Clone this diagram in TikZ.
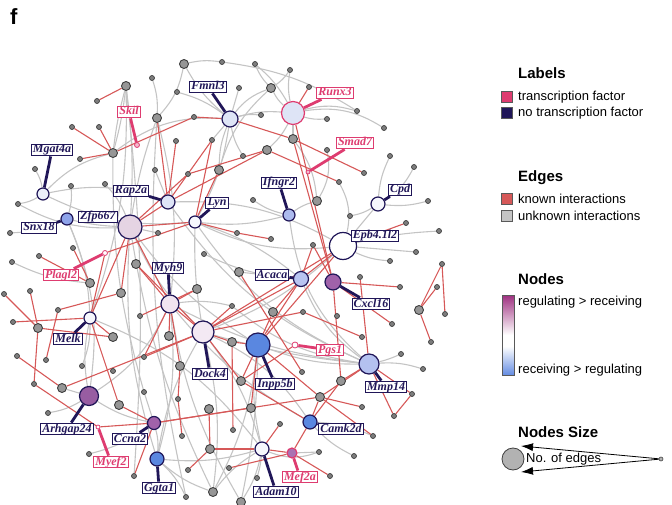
\documentclass[tikz,border=0pt]{standalone}
\usepackage{fontspec}
\setmainfont{Liberation Sans}
\newfontfamily\lblfont{Liberation Serif}
\usetikzlibrary{arrows.meta,backgrounds,positioning}
\definecolor{navy}{RGB}{32,22,88}
\definecolor{tfpink}{RGB}{222,60,112}
\definecolor{kred}{RGB}{214,88,88}
\definecolor{ugray}{RGB}{196,196,196}
\definecolor{gborder}{RGB}{62,62,62}
\definecolor{gmid}{RGB}{150,150,150}
\definecolor{gsmall}{RGB}{125,125,125}
\definecolor{cLight}{RGB}{222,228,246}
\definecolor{cPale}{RGB}{246,247,253}
\definecolor{cMauve}{RGB}{229,212,227}
\definecolor{cRose}{RGB}{240,228,240}
\definecolor{cSky}{RGB}{172,186,238}
\definecolor{cMid}{RGB}{142,163,234}
\definecolor{cBlue}{RGB}{90,135,224}
\definecolor{cPurple}{RGB}{160,98,170}
\definecolor{gradTop}{RGB}{158,48,128}
\definecolor{gradBot}{RGB}{100,140,226}
\pgfdeclareverticalshading{nodegrad}{100bp}{color(0bp)=(gradBot); color(25bp)=(gradBot);
  color(43bp)=(white); color(50bp)=(white); color(75bp)=(gradTop); color(100bp)=(gradTop)}

\begin{document}
\begin{tikzpicture}[x=1pt,y=-1pt,
  gm/.style={circle,draw=gborder,fill=gmid,line width=0.9pt,minimum size=9pt,inner sep=0pt},
  gs/.style={circle,draw=gborder,fill=gsmall,line width=0.7pt,minimum size=5pt,inner sep=0pt},
  gene/.style={circle,draw=navy,line width=1.2pt,inner sep=0pt,minimum size=#1},
  tfdot/.style={circle,draw=tfpink,fill=tfpink!35,line width=0.8pt,inner sep=0pt,minimum size=5pt},
  lbl/.style={draw=navy,fill=white,line width=1pt,inner xsep=1.6pt,inner ysep=0.5pt,
    text height=8.4pt,text depth=2.4pt,text=navy,
    font=\lblfont\bfseries\itshape\fontsize{12}{13}\selectfont},
  tflbl/.style={lbl,draw=tfpink,text=tfpink},
  link/.style={draw=navy,line width=2.8pt},
  tflink/.style={draw=tfpink,line width=2.8pt},
  known/.style={draw=kred,line width=1.1pt},
  unknown/.style={draw=ugray,line width=1.1pt},
  head/.style={anchor=west,inner sep=0pt,font=\bfseries\fontsize{15}{17}\selectfont},
  entry/.style={anchor=west,inner sep=0pt,font=\fontsize{13}{15}\selectfont},
  sq/.style={draw=black!65,line width=0.6pt,minimum size=11pt,inner sep=0pt}]
\useasboundingbox (0,0) rectangle (672,505);

\node[anchor=west,inner sep=0pt,font=\bfseries\fontsize{22}{24}\selectfont] (title) at (10,17) {f};

% genes
\node[gene=16pt,fill=cLight] (Fmnl3) at (230,119) {};
\node[gene=23pt,fill=cLight,draw=tfpink] (Runx3) at (293,113) {};
\node[gene=12pt,fill=cLight!60] (Mgat4a) at (43,194) {};
\node[gene=12pt,fill=cMid] (Snx18) at (67,219) {};
\node[gene=24pt,fill=cMauve] (Zfp667) at (130,227) {};
\node[gene=14pt,fill=cLight] (Rap2a) at (168,202) {};
\node[gene=12pt,fill=cPale] (Lyn) at (195,222) {};
\node[gene=12pt,fill=cSky] (Ifngr2) at (289,215) {};
\node[gene=14pt,fill=cPale] (Cpd) at (378,204) {};
\node[gene=27pt,fill=white] (Epb) at (343,246) {};
\node[gene=18pt,fill=cRose] (Myh9) at (170,304) {};
\node[gene=15pt,fill=cSky!85] (Acaca) at (301,279) {};
\node[gene=16pt,fill=cPurple] (Cxcl16) at (333,282) {};
\node[gene=12pt,fill=cPale] (Melk) at (90,318) {};
\node[gene=22pt,fill=cRose!80] (Dock4) at (203,332) {};
\node[gene=24pt,fill=cBlue] (Inpp5b) at (258,345) {};
\node[gene=20pt,fill=cSky!90] (Mmp14) at (369,364) {};
\node[gene=19pt,fill=cPurple!95!black] (Arhgap24) at (89,396) {};
\node[gene=13pt,fill=cPurple] (Ccna2) at (154,423) {};
\node[gene=14pt,fill=cBlue] (Camk2d) at (310,422) {};
\node[gene=14pt,fill=cBlue] (Ggta1) at (157,459) {};
\node[gene=14pt,fill=cPale] (Adam10) at (262,449) {};
\node[gene=10pt,fill=cPurple!90,draw=tfpink] (Mef2a) at (292,453) {};
\node[tfdot] (SkilD) at (137,145) {};
\node[tfdot,minimum size=4pt] (Smad7D) at (308,172) {};
\node[tfdot,fill=white] (PlaglD) at (105,253) {};
\node[tfdot,fill=white,minimum size=6pt] (PgsD) at (295,345) {};
\node[tfdot,fill=white,minimum size=4pt] (MyefD) at (98,427) {};

% other genes
\foreach \x/\y in {184/64,271/88,126/86,157/118,113/153,219/170,293/139,267/150,317/201,
  136/264,239/272,90/283,121/293,197/289,38/328,113/337,169/336,232/342,180/366,241/381,
  62/388,119/405,209/409,273/312,341/381,320/397,419/310,210/449,213/492,241/502,251/408}
  \node[gm] (g\x x\y) at (\x,\y) {};
\foreach \x/\y in {222/62,255/64,290/70,152/78,177/92,239/88,309/87,357/111,384/128,194/117,
  261/115,327/119,97/101,72/127,99/127,80/159,176/141,212/140,35/169,188/174,155/170,71/186,
  105/184,18/204,10/233,158/233,237/233,243/156,327/150,364/173,339/182,390/156,414/167,
  428/201,253/200,350/216,406/223,439/231,271/239,313/245,416/252,390/261,360/277,400/287,
  442/264,437/287,303/312,337/316,392/324,232/306,362/337,431/342,401/354,423/369,302/372,
  412/394,394/416,362/407,373/436,280/424,319/452,354/456,330/476,257/478,229/468,188/470,
  186/497,233/430,182/436,178/399,144/392,134/476,89/454,48/413,34/384,82/366,113/371,
  144/357,46/360,17/356,13/322,58/310,30/291,4/294,12/262,39/256,73/248,204/254,140/316,445/314}
  \node[gs] (g\x x\y) at (\x,\y) {};

% labels
\node[lbl] (Fmnl3L) at (208,87) {Fmnl3};
\node[tflbl] (Runx3L) at (335,93) {Runx3};
\node[tflbl] (SkilL) at (129,112) {Skil};
\node[tflbl] (Smad7L) at (355,143) {Smad7};
\node[lbl] (Mgat4aL) at (52,150) {Mgat4a};
\node[lbl] (Snx18L) at (39,228) {Snx18};
\node[lbl] (Zfp667L) at (98,217) {Zfp667};
\node[lbl] (Rap2aL) at (131,191) {Rap2a};
\node[lbl] (LynL) at (217,203) {Lyn};
\node[lbl] (Ifngr2L) at (279,183) {Ifngr2};
\node[lbl] (CpdL) at (400,190) {Cpd};
\node[lbl] (EpbL) at (375,236) {Epb4.1l2};
\node[tflbl] (PlaglL) at (61,275) {Plagl2};
\node[lbl] (Myh9L) at (168,268) {Myh9};
\node[lbl] (AcacaL) at (272,275) {Acaca};
\node[lbl] (Cxcl16L) at (371,304) {Cxcl16};
\node[lbl] (MelkL) at (68,339) {Melk};
\node[lbl] (Dock4L) at (210,374) {Dock4};
\node[lbl] (Inpp5bL) at (275,384) {Inpp5b};
\node[tflbl] (PgsL) at (330,350) {Pgs1};
\node[lbl] (Mmp14L) at (386,387) {Mmp14};
\node[lbl] (Arhgap24L) at (67,429) {Arhgap24};
\node[tflbl] (MyefL) at (111,462) {Myef2};
\node[lbl] (Ccna2L) at (130,439) {Ccna2};
\node[lbl] (Camk2dL) at (341,429) {Camk2d};
\node[lbl] (Ggta1L) at (159,488) {Ggta1};
\node[lbl] (Adam10L) at (276,492) {Adam10};
\node[tflbl] (Mef2aL) at (300,477) {Mef2a};

\begin{pgfonlayer}{background}
\foreach \a/\b/\c in {g184x64/g222x62/10,g222x62/g357x111/12,g184x64/g157x118/15,g184x64/Fmnl3/-10,
  g152x78/g157x118/10,g126x86/g113x153/4,g126x86/g113x153/-4,g126x86/Zfp667/5,g157x118/Zfp667/-5,
  g157x118/Myh9/10,Fmnl3/g239x88/0,Fmnl3/g177x92/-10,Fmnl3/g261x115/10,Fmnl3/g271x88/15,
  Fmnl3/Runx3/10,Fmnl3/g219x170/-10,Fmnl3/Lyn/10,Fmnl3/g212x140/0,Fmnl3/g243x156/-10,
  g113x153/Fmnl3/20,Runx3/g327x119/-10,Runx3/g357x111/15,Runx3/g384x128/20,Runx3/g271x88/10,
  Runx3/g255x64/-10,Runx3/g290x70/10,Runx3/g267x150/10,Runx3/g293x139/0,g271x88/g255x64/10,
  g271x88/g290x70/-10,g271x88/g219x170/-15,g293x139/g317x201/15,g317x201/g327x150/-20,
  g317x201/Ifngr2/-10,Ifngr2/g253x200/10,Ifngr2/Lyn/10,Ifngr2/Mmp14/-20,Cpd/g390x156/10,
  Cpd/g414x167/-15,Cpd/g428x201/-10,Cpd/g350x216/10,Cpd/Epb/0,Epb/g439x231/5,Epb/g416x252/0,
  Epb/g390x261/-10,Epb/Lyn/15,Epb/Dock4/10,Epb/g339x182/-20,Mgat4a/g35x169/-10,
  Mgat4a/g18x204/10,Mgat4a/Lyn/-15,Mgat4a/g113x153/15,Mgat4a/Rap2a/15,Snx18/g71x186/-10,
  Snx18/g10x233/10,Snx18/Arhgap24/15,Snx18/Zfp667/-5,Snx18/Melk/10,g18x204/Zfp667/-15,
  g105x184/Zfp667/10,g12x262/g90x283/-10,Zfp667/g158x233/0,Zfp667/Dock4/-10,Zfp667/Inpp5b/-10,
  Zfp667/Ggta1/-10,Rap2a/Mmp14/-15,Rap2a/g155x170/0,Rap2a/Epb/15,Lyn/Acaca/10,Lyn/Mmp14/-15,
  Lyn/Dock4/-5,Myh9/Mmp14/-10,Myh9/Ggta1/10,Myh9/g232x306/10,Myh9/Camk2d/-10,Dock4/Mmp14/-5,
  Dock4/Adam10/10,Dock4/Ggta1/-10,Dock4/g213x492/10,Inpp5b/Mmp14/-10,Inpp5b/g241x502/5,
  Inpp5b/Adam10/-10,Inpp5b/g213x492/10,Acaca/g239x272/0,Acaca/g204x254/10,Acaca/Mmp14/-15,
  g232x306/Mmp14/-15,Mmp14/g401x354/-5,Mmp14/g423x369/10,Melk/Arhgap24/-10,Melk/g82x366/10,
  Melk/Adam10/15,Arhgap24/g48x413/10,Arhgap24/g62x388/0,Arhgap24/Ccna2/-10,Arhgap24/Myh9/-15,
  Ccna2/Ggta1/10,Ccna2/g144x392/0,Ccna2/g89x454/10,Ggta1/g186x497/10,Ggta1/g213x492/-10,
  Ggta1/Adam10/-10,Adam10/g319x452/-20,Adam10/g257x478/5,Adam10/g241x502/10,Adam10/g213x492/-10,
  g241x502/Myh9/10,g213x492/Zfp667/8,Camk2d/g373x436/10,Camk2d/g354x456/-10,Camk2d/Dock4/-15,
  Mef2a/g319x452/0,g157x118/g186x497/-8,g126x86/g134x476/5,g113x153/g144x392/-8,g126x86/Melk/10}
  \draw[unknown] (\a) to[bend left=\c] (\b);
\foreach \a/\b in {g97x101/g126x86,g72x127/g113x153,g99x127/g113x153,g80x159/g113x153,
  g113x153/g194x117,g194x117/Fmnl3,Fmnl3/g293x139,g293x139/g364x173,g157x118/Rap2a,
  g176x141/Rap2a,g212x140/Rap2a,g267x150/Rap2a,g267x150/g188x174,g188x174/Zfp667,
  g267x150/g339x182,g293x139/Cxcl16,Runx3/Cxcl16,Runx3/g309x87,g219x170/Lyn,Rap2a/Zfp667,
  Zfp667/Lyn,Lyn/g237x233,Lyn/g212x140,Epb/g406x223,g237x233/g271x239,Acaca/Epb,Acaca/Dock4,
  Acaca/Inpp5b,Epb/Dock4,Epb/Inpp5b,g313x245/Acaca,g313x245/Cxcl16,g239x272/g302x372,
  Cxcl16/g400x287,Cxcl16/g392x324,Cxcl16/g341x381,g360x277/Mmp14,g303x312/g362x337,
  Dock4/g303x312,Inpp5b/g273x312,Acaca/g273x312,Inpp5b/g232x342,Inpp5b/g320x397,
  PgsD/g241x381,g341x381/Mmp14,g320x397/Mmp14,g320x397/g362x407,g320x397/Camk2d,
  Mmp14/g394x416,Mmp14/g412x394,g394x416/g412x394,g419x310/g442x264,g419x310/g437x287,
  g419x310/g431x342,g442x264/g445x314,g232x306/Dock4,Zfp667/Melk,Zfp667/g121x293,Zfp667/Myh9,
  g39x256/g90x283,g73x248/g90x283,PlaglD/Lyn,PlaglD/Melk,g121x293/g58x310,g58x310/g46x360,
  g30x291/g38x328,g4x294/g38x328,g13x322/Melk,g38x328/g113x337,g38x328/g34x384,
  g17x356/g62x388,g62x388/Dock4,g34x384/MyefD,MyefD/Ccna2,Melk/g113x337,Melk/g119x405,
  Myh9/g136x264,Myh9/g197x289,Myh9/Dock4,Myh9/g180x366,Myh9/g144x357,Myh9/g169x336,
  g136x264/Dock4,Dock4/g232x342,Dock4/g241x381,Dock4/g144x357,g178x399/g180x366,
  Ccna2/g119x405,Ccna2/g251x408,Ccna2/g320x397,Ccna2/g134x476,g178x399/g182x436,
  g209x409/g210x449,g210x449/g188x470,g210x449/Adam10,g233x430/g232x342,Adam10/g280x424,
  Adam10/Mef2a,Mef2a/Camk2d,Mef2a/g330x476,Mef2a/g229x468,Camk2d/g341x381,g320x397/g373x436,
  g241x381/Camk2d,Inpp5b/g251x408,Inpp5b/g241x381,g140x316/g197x289}
  \draw[known] (\a) -- (\b);
% label links
\foreach \a/\b in {Fmnl3L/Fmnl3,Mgat4aL/Mgat4a,Snx18L/Snx18,Zfp667L/Zfp667,Rap2aL/Rap2a,
  LynL/Lyn,Ifngr2L/Ifngr2,CpdL/Cpd,EpbL/Epb,Myh9L/Myh9,AcacaL/Acaca,Cxcl16L/Cxcl16,
  MelkL/Melk,Dock4L/Dock4,Inpp5bL/Inpp5b,Mmp14L/Mmp14,Arhgap24L/Arhgap24,Ccna2L/Ccna2,
  Camk2dL/Camk2d,Ggta1L/Ggta1,Adam10L/Adam10}
  \draw[link] (\a) -- (\b);
\foreach \a/\b in {Runx3L/Runx3,SkilL/SkilD,Smad7L/Smad7D,PlaglL/PlaglD,PgsL/PgsD,
  MyefL/MyefD,Mef2aL/Mef2a}
  \draw[tflink] (\a) -- (\b);
\end{pgfonlayer}

% legend
\node[head] (labHead) at (518,73) {Labels};
\node[sq,fill=tfpink] (sqTF) at (507,97) {};
\node[entry] (tfTxt) at (518,97) {transcription factor};
\node[sq,fill=navy] (sqNTF) at (507,113) {};
\node[entry] (ntfTxt) at (518,113) {no transcription factor};
\node[head] (edgHead) at (518,178) {Edges};
\node[sq,fill=kred] (sqKn) at (507,199) {};
\node[entry] (knTxt) at (518,199) {known interactions};
\node[sq,fill=ugray] (sqUn) at (507,216) {};
\node[entry] (unTxt) at (518,216) {unknown interactions};
\node[head] (nodHead) at (518,279) {Nodes};
\shadedraw[draw=black!65,line width=0.6pt,shading=nodegrad] (502,295) rectangle (514,375);
\node[entry] (regTxt) at (518,302) {regulating > receiving};
\node[entry] (recTxt) at (518,370) {receiving > regulating};
\node[head] (sizHead) at (518,432) {Nodes Size};
\node[circle,draw=black!75,fill=black!30,line width=0.8pt,minimum size=22pt,inner sep=0pt] (szBig) at (513,459) {};
\node[circle,draw=black!75,fill=black!30,line width=0.6pt,minimum size=4pt,inner sep=0pt] (szSmall) at (661,459) {};
\coordinate (szTop) at (521,446);
\coordinate (szBot) at (521,472);
\draw[line width=0.8pt,-{Latex[length=12pt,width=8pt]}] (szSmall) -- (szTop);
\draw[line width=0.8pt,-{Latex[length=12pt,width=8pt]}] (szSmall) -- (szBot);
\node[entry] (szTxt) at (526,459) {No. of edges};
\end{tikzpicture}
\end{document}
